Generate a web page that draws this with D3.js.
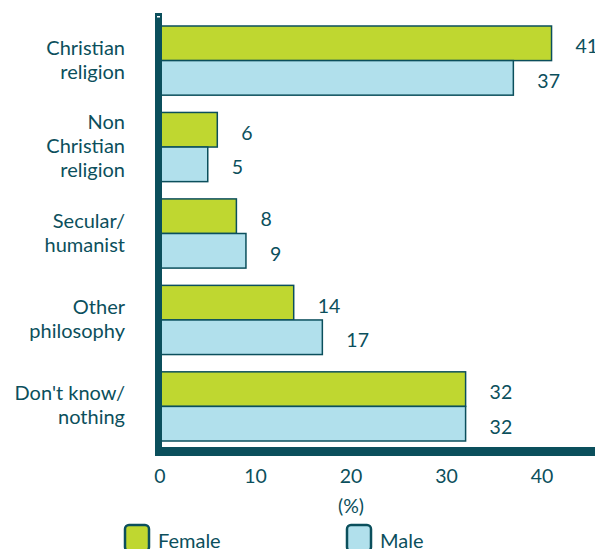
<!DOCTYPE html>
<html>
<head>
<meta charset="utf-8">
<script src="https://d3js.org/d3.v7.min.js"></script>
<style>
  body { margin: 0; background: #fff; }
  svg { display: block; font-family: Lato, "Open Sans", sans-serif; }
  text { fill: #0b4f5c; }
</style>
</head>
<body>
<svg id="chart" width="595" height="549"></svg>
<script>
// categories, top to bottom (lines split for wrapping)
const categories = ['Christian religion', 'Non Christian religion', 'Secular/ humanist', 'Other philosophy', "Don't know/ nothing"];
const categoryLines = [['Christian', 'religion'], ['Non', 'Christian', 'religion'], ['Secular/', 'humanist'], ['Other', 'philosophy'], ["Don't know/", 'nothing']];
const series = ['Female', 'Male'];
const female = [41, 6, 8, 14, 32];
const male = [37, 5, 9, 17, 32];
const xTicks = [0, 10, 20, 30, 40];

const colors = { Female: '#bfd730', Male: '#b1e0ec' };
const ink = '#0b4f5c';

const svg = d3.select('#chart');

const x = d3.scaleLinear().domain([0, 40]).range([160, 542]);
const y = d3.scaleBand().domain(categories).range([26, 441]).paddingInner(0.2).paddingOuter(0);
const ySub = d3.scaleBand().domain(series).range([0, y.bandwidth()]);

const rows = categories.map((c, i) => ({ cat: c, Female: female[i], Male: male[i] }));

// bars
const groups = svg.append('g').selectAll('g')
  .data(rows)
  .enter().append('g')
  .attr('transform', d => `translate(0,${y(d.cat)})`);

groups.selectAll('rect')
  .data(d => series.map(s => ({ s, v: d[s] })))
  .enter().append('rect')
  .attr('x', x(0))
  .attr('y', d => ySub(d.s))
  .attr('width', d => x(d.v) - x(0))
  .attr('height', ySub.bandwidth())
  .attr('fill', d => colors[d.s])
  .attr('stroke', ink)
  .attr('stroke-width', 1.5);

// value labels
groups.selectAll('text.val')
  .data(d => series.map(s => ({ s, v: d[s] })))
  .enter().append('text')
  .attr('class', 'val')
  .attr('x', d => x(d.v) + 24)
  .attr('y', d => ySub(d.s) + ySub.bandwidth() / 2 + 10)
  .attr('font-size', 19.5)
  .text(d => d.v);

// axes (thick dark lines)
svg.append('rect').attr('x', 155).attr('y', 13).attr('width', 7).attr('height', 443).attr('fill', ink);
svg.append('rect').attr('x', 155).attr('y', 447).attr('width', 440).attr('height', 9).attr('fill', ink);
svg.append('rect').attr('x', 157).attr('y', 16).attr('width', 3).attr('height', 1.5).attr('fill', '#fff');

// x tick labels
svg.append('g').selectAll('text')
  .data(xTicks)
  .enter().append('text')
  .attr('x', d => x(d))
  .attr('y', 483)
  .attr('text-anchor', 'middle')
  .attr('font-size', 19.5)
  .text(d => d);

svg.append('text')
  .attr('x', x(20))
  .attr('y', 513)
  .attr('text-anchor', 'middle')
  .attr('font-size', 19.5)
  .text('(%)');

// category labels
categories.forEach((c, i) => {
  const lines = categoryLines[i];
  const cy = y(c) + y.bandwidth() / 2;
  const t = svg.append('text')
    .attr('text-anchor', 'end')
    .attr('font-size', 20);
  lines.forEach((ln, j) => {
    t.append('tspan')
      .attr('x', 125)
      .attr('y', cy + (j - (lines.length - 1) / 2) * 24 + 6)
      .text(ln);
  });
});

// legend
const legend = [{ s: 'Female', x: 125 }, { s: 'Male', x: 347 }];
const lg = svg.append('g').selectAll('g')
  .data(legend)
  .enter().append('g')
  .attr('transform', d => `translate(${d.x},525)`);
lg.append('rect')
  .attr('x', 0).attr('y', 0).attr('width', 24).attr('height', 26)
  .attr('rx', 4).attr('ry', 4)
  .attr('fill', d => colors[d.s])
  .attr('stroke', ink)
  .attr('stroke-width', 2.5);
lg.append('text')
  .attr('x', 33)
  .attr('y', 23)
  .attr('font-size', 20)
  .text(d => d.s);
</script>
</body>
</html>
